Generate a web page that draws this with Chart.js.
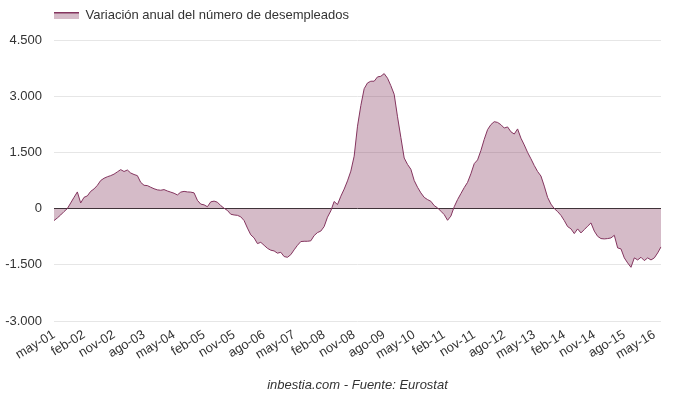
<!DOCTYPE html>
<html>
<head>
<meta charset="utf-8">
<script src="https://cdn.jsdelivr.net/npm/chart.js@4"></script>
<style>
html,body{margin:0;padding:0;background:#fff;}
#wrap{width:680px;height:399px;position:relative;}
</style>
</head>
<body>
<div id="wrap"><canvas id="c" width="680" height="399"></canvas></div>
<script>
const monthNames = ['ene','feb','mar','abr','may','jun','jul','ago','sep','oct','nov','dic'];
const startYear = 2001;
const startMonth = 4; // may
const seriesLabel = 'Variación anual del número de desempleados';
const footerText = 'inbestia.com - Fuente: Eurostat';
const yTicks = [-3000, -1500, 0, 1500, 3000, 4500];

const values = [
  -320, -250, -170, -80, 0, 150, 300, 445, 150, 300,
  340, 460, 525, 620, 750, 810, 850, 880, 920, 980,
  1040, 990, 1030, 950, 910, 880, 700, 622, 614, 570,
  530, 500, 490, 507, 470, 440, 410, 365, 440, 460,
  445, 440, 420, 220, 120, 100, 50, 180, 200, 170,
  80, 10, -50, -150, -170, -180, -220, -320, -520, -700,
  -783, -934, -900, -980, -1060, -1110, -1130, -1190, -1166, -1280,
  -1300, -1230, -1100, -980, -880, -872, -872, -860, -720, -640,
  -600, -480, -230, -60, 190, 107, 330, 520, 740, 1000,
  1400, 2200, 2750, 3200, 3354, 3400, 3400, 3515, 3532, 3603,
  3480, 3280, 3050, 2450, 1900, 1350, 1180, 1050, 750, 570,
  420, 300, 240, 195, 80, 20, -70, -160, -312, -200,
  50, 240, 400, 560, 700, 930, 1200, 1300, 1550, 1850,
  2108, 2242, 2320, 2300, 2240, 2150, 2180, 2050, 1990, 2127,
  1880, 1700, 1500, 1330, 1150, 990, 870, 600, 300, 120,
  0, -80, -180, -320, -480, -540, -667, -542, -649, -560,
  -470, -382, -600, -740, -800, -809, -800, -783, -712, -1049,
  -1076, -1316, -1450, -1567, -1316, -1370, -1299, -1388, -1316, -1370,
  -1316, -1183, -1022
];

const categories = values.map((v, i) => {
  const m = startMonth + i;
  const y = startYear + Math.floor(m / 12);
  return monthNames[m % 12] + '-' + String(y % 100).padStart(2, '0');
});

const lineColor = '#84355f';
const fillColor = 'rgba(128,48,88,0.33)';
const FONT = "'Liberation Sans', Arial, sans-serif";

// legend symbol
const sym = document.createElement('canvas');
sym.width = 25; sym.height = 7;
const sctx = sym.getContext('2d');
sctx.fillStyle = fillColor;
sctx.fillRect(0, 0, 25, 7);
sctx.fillStyle = lineColor;
sctx.fillRect(0, 0, 25, 1.5);

function fmt(v) {
  const s = String(Math.abs(v)).replace(/\B(?=(\d{3})+(?!\d))/g, '.');
  return (v < 0 ? '-' : '') + s;
}

const legendFitPlugin = {
  id: 'legendFit',
  afterInit(chart) {
    const lg = chart.legend;
    if (lg && !lg._patched) {
      const orig = lg.fit;
      lg.fit = function () { orig.call(this); this.height = 40; };
      lg._patched = true;
    }
  },
  afterLayout(chart) {
    const lg = chart.legend;
    if (lg) { lg.left = 45; }
  }
};

const footerPlugin = {
  id: 'footer',
  afterDraw(chart) {
    const ctx = chart.ctx;
    const a = chart.chartArea;
    ctx.save();
    ctx.font = 'italic 13px ' + FONT;
    ctx.fillStyle = '#333';
    ctx.textAlign = 'center';
    ctx.textBaseline = 'middle';
    ctx.fillText(footerText, (a.left + a.right) / 2, 385);
    ctx.restore();
  }
};

new Chart(document.getElementById('c'), {
  type: 'line',
  data: {
    labels: categories,
    datasets: [{
      label: seriesLabel,
      data: values,
      borderColor: lineColor,
      backgroundColor: fillColor,
      borderWidth: 1,
      pointRadius: 0,
      tension: 0,
      fill: 'origin'
    }]
  },
  options: {
    responsive: false,
    animation: false,
    devicePixelRatio: 1,
    layout: { padding: { left: 0, right: 19, top: 0, bottom: 30 } },
    plugins: {
      legend: {
        display: true,
        position: 'top',
        align: 'start',
        labels: {
          usePointStyle: true,
          pointStyle: sym,
          pointStyleWidth: 25,
          padding: 9,
          color: '#333',
          font: { size: 13, family: FONT }
        }
      },
      tooltip: { enabled: false },
      title: { display: false }
    },
    scales: {
      x: {
        type: 'category',
        offset: false,
        grid: { display: false, drawTicks: false },
        border: { display: false },
        ticks: {
          autoSkip: false,
          minRotation: 31,
          maxRotation: 31,
          padding: 6,
          color: '#333',
          font: { size: 13, family: FONT },
          callback: function (val, idx) { return idx % 9 === 0 ? categories[idx] : null; }
        },
        afterFit(scale) { scale.height = 48; }
      },
      y: {
        min: -3000,
        max: 4500,
        afterBuildTicks(scale) { scale.ticks = yTicks.map(v => ({ value: v })); },
        grid: {
          drawTicks: false,
          color: ctx => (ctx.tick && ctx.tick.value === 0) ? '#333' : '#e6e6e6',
          lineWidth: 1
        },
        border: { display: false },
        ticks: {
          padding: 12,
          color: '#333',
          font: { size: 13, family: FONT },
          callback: v => fmt(v)
        },
        afterFit(scale) { scale.width = 54; }
      }
    }
  },
  plugins: [legendFitPlugin, footerPlugin]
});
</script>
</body>
</html>
